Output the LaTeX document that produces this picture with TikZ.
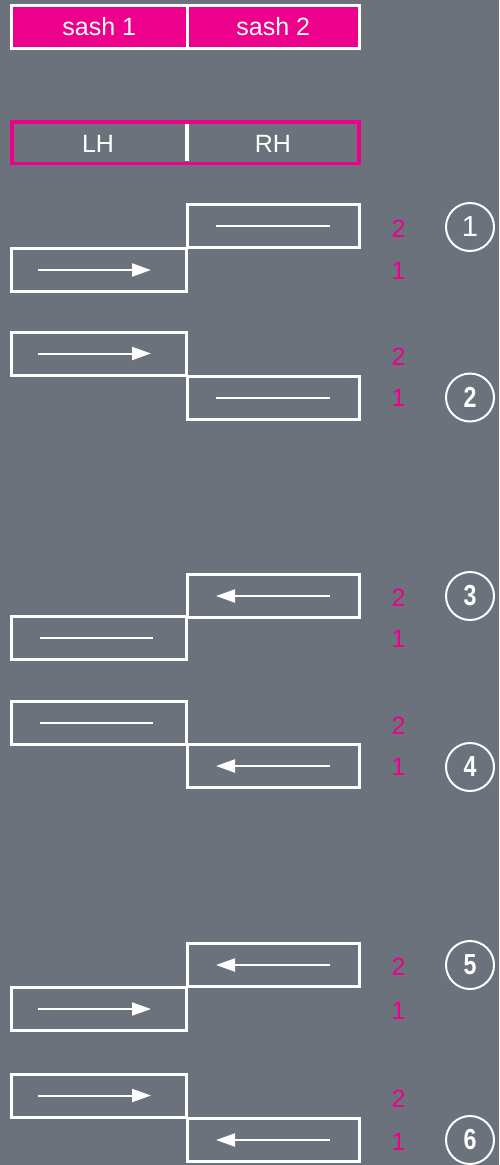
\documentclass[tikz,border=0pt]{standalone}
\usepackage{fontspec}
\setmainfont{Liberation Sans}
\usetikzlibrary{arrows.meta}
\definecolor{bg}{RGB}{107,114,123}
\definecolor{pk}{RGB}{236,0,140}
\begin{document}
\begin{tikzpicture}[x=1pt,y=-1pt,
  hdr/.style={draw=white, line width=3pt, fill=pk, text=white, minimum height=43pt, inner sep=0pt, outer sep=0pt, font=\fontsize{25}{30}\selectfont},
  hand/.style={text=white, inner sep=0pt, font=\fontsize{25}{30}\selectfont},
  sashbox/.style={draw=white, line width=3pt, minimum height=43pt, inner sep=0pt, outer sep=0pt},
  lbox/.style={sashbox, minimum width=175pt},
  rbox/.style={sashbox, minimum width=172pt},
  mv/.style={white, line width=2pt, -{Triangle[length=19pt,width=13pt]}},
  fix/.style={white, line width=2pt},
  num/.style={text=pk, inner sep=0pt, font=\fontsize{25}{30}\selectfont},
  stepcirc/.style={circle, draw=white, line width=2pt, minimum size=48pt, inner sep=0pt, text=white, font=\fontsize{29}{34}\selectfont\bfseries}
]
\fill[bg] (0,0) rectangle (499,1165);
\useasboundingbox (0,0) rectangle (499,1165);

% header
\node[hdr, minimum width=175.5pt] (s1) at (99.25,27) {sash 1};
\node[hdr, minimum width=172.5pt] (s2) at (273.25,27) {sash 2};

% LH / RH
\node[draw=pk, line width=3.5pt, minimum width=347pt, minimum height=41.5pt, inner sep=0pt] (hbox) at (185.5,142.5) {};
\node[hand] (lh) at (98,144) {LH};
\node[hand] (rh) at (273,144) {RH};
\coordinate (dtop) at (187,124);
\coordinate (dbot) at (187,161);
\draw[white, line width=4pt] (dtop) -- (dbot);

% helper macros
\newcommand{\larrow}[1]{\draw[mv] ([xshift=-61pt]#1.center) -- ([xshift=52pt]#1.center);}
\newcommand{\lline}[1]{\draw[fix] ([xshift=-59pt]#1.center) -- ([xshift=54pt]#1.center);}
\newcommand{\rarrow}[1]{\draw[mv] ([xshift=56.5pt]#1.center) -- ([xshift=-57.5pt]#1.center);}
\newcommand{\rline}[1]{\draw[fix] ([xshift=-57.5pt]#1.center) -- ([xshift=56.5pt]#1.center);}
\newcommand{\cnum}[1]{\scalebox{0.8}[1]{#1}}

% group 1
\node[rbox] (r1) at (273.5,226) {};
\node[lbox] (l1) at (99,270) {};
\rline{r1} \larrow{l1}
\node[num] (t1a) at (398.5,229) {2};
\node[num] (t1b) at (398.5,271) {1};
\node[stepcirc, font=\fontsize{29}{34}\selectfont] (c1) at (470,227) {1};

% group 2
\node[lbox] (l2) at (99,353.5) {};
\node[rbox] (r2) at (273.5,397.5) {};
\larrow{l2} \rline{r2}
\node[num] (t2a) at (398.5,357) {2};
\node[num] (t2b) at (398.5,397.5) {1};
\node[stepcirc] (c2) at (470,397.5) {\cnum{2}};

% group 3
\node[rbox] (r3) at (273.5,596) {};
\node[lbox] (l3) at (99,638) {};
\rarrow{r3} \lline{l3}
\node[num] (t3a) at (398.5,598) {2};
\node[num] (t3b) at (398.5,639) {1};
\node[stepcirc] (c3) at (470,596) {\cnum{3}};

% group 4
\node[lbox] (l4) at (99,722.5) {};
\node[rbox] (r4) at (273.5,766) {};
\lline{l4} \rarrow{r4}
\node[num] (t4a) at (398.5,726) {2};
\node[num] (t4b) at (398.5,767) {1};
\node[stepcirc] (c4) at (470,767) {\cnum{4}};

% group 5
\node[rbox] (r5) at (273.5,965) {};
\node[lbox] (l5) at (99,1009) {};
\rarrow{r5} \larrow{l5}
\node[num] (t5a) at (398.5,967) {2};
\node[num] (t5b) at (398.5,1011) {1};
\node[stepcirc] (c5) at (470,965) {\cnum{5}};

% group 6
\node[lbox] (l6) at (99,1095.5) {};
\node[rbox] (r6) at (273.5,1140) {};
\larrow{l6} \rarrow{r6}
\node[num] (t6a) at (398.5,1099) {2};
\node[num] (t6b) at (398.5,1142) {1};
\node[stepcirc] (c6) at (470,1140) {\cnum{6}};
\end{tikzpicture}
\end{document}
